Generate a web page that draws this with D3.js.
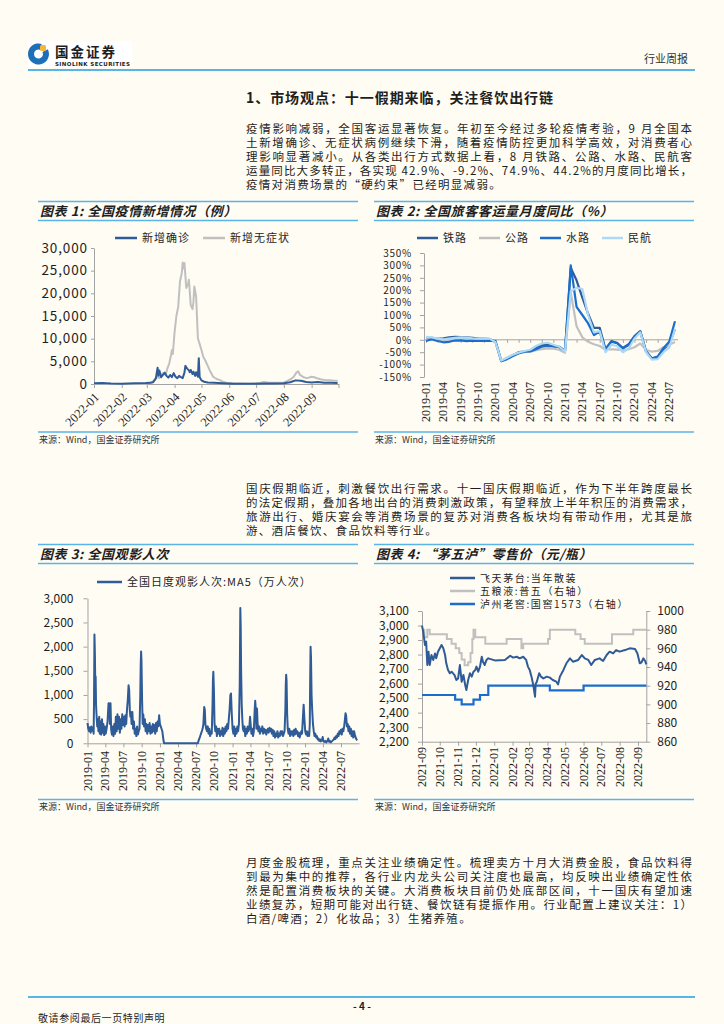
<!DOCTYPE html>
<html lang="zh-CN">
<head>
<meta charset="UTF-8">
<title>行业周报 - 4</title>
<script src="https://d3js.org/d3.v7.min.js"></script>
<style>
  body { margin: 0; background: #fffcf3; }
  svg { display: block; }
  text { font-family: "Noto Sans CJK SC", sans-serif; fill: #1e1e1e; }
  .num { font-family: "Liberation Serif", "DejaVu Serif", serif; }
  .body { font-size: 11.5px; }
  .ptitle { font-size: 13px; font-weight: bold; font-style: italic; letter-spacing: 0.6px; }
  .legend { font-size: 11px; letter-spacing: 1px; }
  .legend.tight { font-size: 10px; letter-spacing: 1.6px; }
  .source { font-size: 9px; fill: #333; }
</style>
</head>
<body>
<svg id="page" width="724" height="1024"></svg>
<script>
// ---------- text ----------
const sectionTitle = '1、市场观点：十一假期来临，关注餐饮出行链';
const para1 = [
  '疫情影响减弱，全国客运显著恢复。年初至今经过多轮疫情考验，9 月全国本',
  '土新增确诊、无症状病例继续下滑，随着疫情防控更加科学高效，对消费者心',
  '理影响显著减小。从各类出行方式数据上看，8 月铁路、公路、水路、民航客',
  '运量同比大多转正，各实现 42.9%、-9.2%、74.9%、44.2%的月度同比增长，',
  '疫情对消费场景的“硬约束”已经明显减弱。'
];
const para2 = [
  '国庆假期临近，刺激餐饮出行需求。十一国庆假期临近，作为下半年跨度最长',
  '的法定假期，叠加各地出台的消费刺激政策，有望释放上半年积压的消费需求，',
  '旅游出行、婚庆宴会等消费场景的复苏对消费各板块均有带动作用，尤其是旅',
  '游、酒店餐饮、食品饮料等行业。'
];
const para3 = [
  '月度金股梳理，重点关注业绩确定性。梳理卖方十月大消费金股，食品饮料得',
  '到最为集中的推荐，各行业内龙头公司关注度也最高，均反映出业绩确定性依',
  '然是配置消费板块的关键。大消费板块目前仍处底部区间，十一国庆有望加速',
  '业绩复苏，短期可能对出行链、餐饮链有提振作用。行业配置上建议关注：1）',
  '白酒/啤酒；2）化妆品；3）生猪养殖。'
];
const sourceText = '来源：Wind，国金证券研究所';

// ---------- chart 1: daily new cases ----------
const c1Names = ['新增确诊', '新增无症状'];
const c1XLabels = ['2022-01','2022-02','2022-03','2022-04','2022-05','2022-06','2022-07','2022-08','2022-09'];
const c1YTicks = [0, 5000, 10000, 15000, 20000, 25000, 30000];
const c1Confirmed = [
  ['2022-01-01',150],['2022-01-10',200],['2022-01-20',100],['2022-02-01',60],['2022-02-15',150],
  ['2022-02-28',200],['2022-03-05',250],['2022-03-08',400],['2022-03-11',1200],['2022-03-13',3600],
  ['2022-03-14',1800],['2022-03-15',3000],['2022-03-17',1500],['2022-03-19',2000],['2022-03-21',2500],
  ['2022-03-23',1800],['2022-03-25',1400],['2022-03-27',2000],['2022-03-29',1500],['2022-03-31',2400],
  ['2022-04-02',1600],['2022-04-04',1300],['2022-04-06',1800],['2022-04-08',1500],['2022-04-10',1300],
  ['2022-04-12',2500],['2022-04-13',4000],['2022-04-15',3400],['2022-04-17',3000],['2022-04-18',2600],
  ['2022-04-19',3100],['2022-04-21',2200],['2022-04-22',2700],['2022-04-24',1800],['2022-04-25',2600],
  ['2022-04-27',1600],['2022-04-28',5700],['2022-04-29',1500],['2022-05-01',800],['2022-05-04',500],
  ['2022-05-08',350],['2022-05-15',250],['2022-05-25',150],['2022-06-05',80],['2022-06-20',60],
  ['2022-07-01',70],['2022-07-10',100],['2022-07-20',120],['2022-08-01',150],['2022-08-08',400],
  ['2022-08-14',800],['2022-08-20',700],['2022-08-26',450],['2022-09-01',350],['2022-09-08',450],
  ['2022-09-15',300],['2022-09-22',250],['2022-09-30',200]
];
const c1Asymptomatic = [
  ['2022-01-01',20],['2022-01-15',15],['2022-02-01',10],['2022-02-15',20],['2022-02-28',80],
  ['2022-03-05',300],['2022-03-08',600],['2022-03-12',1600],['2022-03-15',1300],['2022-03-19',2400],
  ['2022-03-22',2000],['2022-03-24',3500],['2022-03-26',4500],['2022-03-28',6400],['2022-03-29',7500],
  ['2022-03-30',6600],['2022-04-01',11500],['2022-04-03',15000],['2022-04-05',17000],['2022-04-07',22600],
  ['2022-04-09',24500],['2022-04-10',26800],['2022-04-11',25500],['2022-04-12',26700],['2022-04-13',24000],
  ['2022-04-14',21200],['2022-04-16',22000],['2022-04-17',23000],['2022-04-19',17400],['2022-04-21',16500],
  ['2022-04-22',18000],['2022-04-23',21500],['2022-04-25',19300],['2022-04-27',10100],['2022-04-29',8800],
  ['2022-05-01',7500],['2022-05-03',6000],['2022-05-05',5300],['2022-05-08',4000],['2022-05-10',3100],
  ['2022-05-14',1600],['2022-05-18',1100],['2022-05-21',900],['2022-05-25',500],['2022-05-29',300],
  ['2022-06-05',150],['2022-06-15',100],['2022-06-25',80],['2022-07-01',150],['2022-07-06',300],
  ['2022-07-10',450],['2022-07-14',350],['2022-07-20',300],['2022-07-26',250],['2022-08-01',350],
  ['2022-08-05',700],['2022-08-09',1100],['2022-08-12',1600],['2022-08-15',2500],['2022-08-17',2800],
  ['2022-08-19',2000],['2022-08-23',1500],['2022-08-27',1300],['2022-09-01',1600],['2022-09-04',1500],
  ['2022-09-08',1200],['2022-09-12',1000],['2022-09-16',900],['2022-09-20',850],['2022-09-25',750],
  ['2022-09-30',700]
];

// ---------- chart 2: passenger volume YoY (%) ----------
const c2Names = ['铁路', '公路', '水路', '民航'];
const c2Months = [
  '2019-01','2019-02','2019-03','2019-04','2019-05','2019-06','2019-07','2019-08','2019-09','2019-10','2019-11','2019-12',
  '2020-01','2020-02','2020-03','2020-04','2020-05','2020-06','2020-07','2020-08','2020-09','2020-10','2020-11','2020-12',
  '2021-01','2021-02','2021-03','2021-04','2021-05','2021-06','2021-07','2021-08','2021-09','2021-10','2021-11','2021-12',
  '2022-01','2022-02','2022-03','2022-04','2022-05','2022-06','2022-07','2022-08'
];
const c2XLabels = ['2019-01','2019-04','2019-07','2019-10','2020-01','2020-04','2020-07','2020-10',
  '2021-01','2021-04','2021-07','2021-10','2022-01','2022-04','2022-07'];
const c2YTicks = [-150, -100, -50, 0, 50, 100, 150, 200, 250, 300, 350];
const c2Rail = [5, 8, 4, 6, 10, 12, 11, 10, 8, 6, 5, 3,
  -8, -85, -75, -62, -50, -48, -45, -32, -22, -20, -25, -28,
  -45, 290, 240, 170, 105, 48, 48, -38, -5, -12, -33, -18,
  15, 35, -45, -75, -72, -38, -18, 43];
const c2Road = [3, 0, -2, -3, -2, -1, 0, 2, 3, 4, 2, 0,
  -10, -87, -72, -60, -52, -50, -48, -42, -38, -35, -36, -40,
  -52, 190, 55, 10, -8, -18, -25, -40, -38, -40, -42, -38,
  -30, -15, -40, -48, -45, -30, -20, -9];
const c2Water = [-5, 2, -5, -10, -8, -3, -2, -5, -3, -4, -4, -3,
  -5, -86, -78, -65, -55, -48, -47, -38, -28, -25, -27, -30,
  -45, 300, 133, 100, 66, 19, 33, -41, -8, -14, -34, -21,
  13, 33, -48, -75, -68, -34, -8, 75];
const c2Air = [12, 10, 5, 2, 5, 8, 10, 9, 6, 5, 6, 5,
  -10, -84, -72, -60, -52, -45, -40, -25, -15, -12, -20, -28,
  -48, 195, 210, 205, 100, 30, 35, -50, -20, -25, -50, -35,
  5, 30, -50, -80, -78, -50, -32, 44];

// ---------- chart 3: daily cinema attendance MA5 (10k) ----------
const c3Name = '全国日度观影人次:MA5（万人次）';
const c3XLabels = ['2019-01','2019-04','2019-07','2019-10','2020-01','2020-04','2020-07','2020-10',
  '2021-01','2021-04','2021-07','2021-10','2022-01','2022-04','2022-07'];
const c3YTicks = [0, 500, 1000, 1500, 2000, 2500, 3000];
const c3Movie = [
  ['2019-01-01',420],['2019-01-05',300],['2019-01-09',250],['2019-01-13',330],['2019-01-17',220],
  ['2019-01-21',350],['2019-01-25',260],['2019-01-29',320],['2019-02-01',200],['2019-02-03',900],
  ['2019-02-05',2250],['2019-02-07',1900],['2019-02-09',1300],['2019-02-11',1380],['2019-02-13',800],
  ['2019-02-16',550],['2019-02-19',350],['2019-02-22',500],['2019-02-25',250],['2019-03-01',550],
  ['2019-03-04',200],['2019-03-08',450],['2019-03-11',180],['2019-03-15',500],['2019-03-18',220],
  ['2019-03-22',400],['2019-03-26',170],['2019-03-30',350],['2019-04-03',200],['2019-04-07',300],
  ['2019-04-12',450],['2019-04-17',830],['2019-04-21',820],['2019-04-24',400],['2019-04-27',830],
  ['2019-04-30',300],['2019-05-04',180],['2019-05-08',350],['2019-05-12',150],['2019-05-16',400],
  ['2019-05-20',200],['2019-05-24',550],['2019-05-28',250],['2019-06-01',600],['2019-06-05',300],
  ['2019-06-09',550],['2019-06-13',220],['2019-06-17',500],['2019-06-21',300],['2019-06-25',600],
  ['2019-06-29',380],['2019-07-03',550],['2019-07-07',350],['2019-07-11',580],['2019-07-15',400],
  ['2019-07-19',700],['2019-07-23',900],['2019-07-27',1200],['2019-07-30',1100],['2019-08-02',700],
  ['2019-08-05',550],['2019-08-08',650],['2019-08-11',400],['2019-08-15',650],['2019-08-19',300],
  ['2019-08-23',450],['2019-08-27',200],['2019-08-31',300],['2019-09-04',150],['2019-09-08',350],
  ['2019-09-12',180],['2019-09-16',250],['2019-09-20',300],['2019-09-24',1000],['2019-09-26',1600],
  ['2019-09-28',1900],['2019-09-30',1700],['2019-10-03',900],['2019-10-06',400],['2019-10-09',600],
  ['2019-10-13',350],['2019-10-17',500],['2019-10-21',250],['2019-10-25',400],['2019-10-29',200],
  ['2019-11-02',380],['2019-11-06',250],['2019-11-10',420],['2019-11-14',200],['2019-11-18',350],
  ['2019-11-22',220],['2019-11-26',400],['2019-11-30',250],['2019-12-04',380],['2019-12-08',200],
  ['2019-12-12',420],['2019-12-16',250],['2019-12-20',450],['2019-12-24',350],['2019-12-28',580],
  ['2020-01-01',400],['2020-01-05',350],['2020-01-09',300],['2020-01-13',250],['2020-01-17',120],
  ['2020-01-20',30],['2020-01-22',0],['2020-07-10',0],['2020-07-14',60],['2020-07-18',100],
  ['2020-07-22',150],['2020-07-26',200],['2020-07-30',250],['2020-08-03',300],['2020-08-07',400],
  ['2020-08-11',750],['2020-08-14',700],['2020-08-17',400],['2020-08-21',300],['2020-08-25',250],
  ['2020-08-29',350],['2020-09-02',200],['2020-09-06',300],['2020-09-10',150],['2020-09-14',250],
  ['2020-09-18',200],['2020-09-22',800],['2020-09-24',1300],['2020-09-26',1480],['2020-09-29',1100],
  ['2020-10-02',400],['2020-10-06',250],['2020-10-10',350],['2020-10-14',150],['2020-10-18',300],
  ['2020-10-22',200],['2020-10-26',300],['2020-10-30',150],['2020-11-03',250],['2020-11-07',180],
  ['2020-11-11',320],['2020-11-15',150],['2020-11-19',300],['2020-11-23',200],['2020-11-27',350],
  ['2020-12-01',250],['2020-12-05',400],['2020-12-09',300],['2020-12-13',500],['2020-12-17',700],
  ['2020-12-21',1000],['2020-12-24',1030],['2020-12-28',600],['2021-01-01',300],['2021-01-05',200],
  ['2021-01-09',350],['2021-01-13',150],['2021-01-17',300],['2021-01-21',200],['2021-01-25',350],
  ['2021-01-29',250],['2021-02-02',400],['2021-02-06',1200],['2021-02-09',2800],['2021-02-11',2400],
  ['2021-02-13',1500],['2021-02-16',800],['2021-02-19',500],['2021-02-22',300],['2021-02-26',250],
  ['2021-03-02',350],['2021-03-06',150],['2021-03-10',300],['2021-03-14',200],['2021-03-18',350],
  ['2021-03-22',250],['2021-03-26',300],['2021-03-30',550],['2021-04-02',400],['2021-04-06',200],
  ['2021-04-10',300],['2021-04-14',150],['2021-04-18',250],['2021-04-22',650],['2021-04-25',880],
  ['2021-04-28',700],['2021-05-01',300],['2021-05-04',720],['2021-05-07',400],['2021-05-11',250],
  ['2021-05-15',350],['2021-05-19',200],['2021-05-23',300],['2021-05-27',250],['2021-05-31',350],
  ['2021-06-04',200],['2021-06-08',300],['2021-06-12',220],['2021-06-16',280],['2021-06-20',180],
  ['2021-06-24',250],['2021-06-28',300],['2021-07-02',220],['2021-07-06',320],['2021-07-10',250],
  ['2021-07-14',300],['2021-07-18',200],['2021-07-22',280],['2021-07-26',150],['2021-07-30',250],
  ['2021-08-03',120],['2021-08-07',200],['2021-08-11',150],['2021-08-15',250],['2021-08-19',120],
  ['2021-08-23',200],['2021-08-27',150],['2021-08-31',250],['2021-09-04',180],['2021-09-08',250],
  ['2021-09-12',150],['2021-09-16',200],['2021-09-20',250],['2021-09-24',700],['2021-09-26',1200],
  ['2021-09-28',1420],['2021-09-30',1300],['2021-10-03',600],['2021-10-06',300],['2021-10-10',200],
  ['2021-10-14',300],['2021-10-18',150],['2021-10-22',250],['2021-10-26',180],['2021-10-30',250],
  ['2021-11-03',150],['2021-11-07',280],['2021-11-11',180],['2021-11-15',300],['2021-11-19',200],
  ['2021-11-23',250],['2021-11-27',150],['2021-12-01',220],['2021-12-05',120],['2021-12-09',180],
  ['2021-12-13',250],['2021-12-17',200],['2021-12-21',500],['2021-12-25',800],['2021-12-29',500],
  ['2022-01-02',250],['2022-01-06',180],['2022-01-10',250],['2022-01-14',150],['2022-01-18',230],
  ['2022-01-22',150],['2022-01-25',400],['2022-01-27',1300],['2022-01-29',2000],['2022-01-31',1800],
  ['2022-02-03',1000],['2022-02-06',700],['2022-02-10',400],['2022-02-14',250],['2022-02-18',150],
  ['2022-02-22',200],['2022-02-26',120],['2022-03-02',150],['2022-03-06',80],['2022-03-10',100],
  ['2022-03-14',50],['2022-03-18',80],['2022-03-22',40],['2022-03-27',60],['2022-03-31',130],
  ['2022-04-04',40],['2022-04-08',30],['2022-04-13',50],['2022-04-18',20],['2022-04-23',40],
  ['2022-04-28',100],['2022-05-02',30],['2022-05-06',50],['2022-05-11',20],['2022-05-16',40],
  ['2022-05-21',60],['2022-05-26',80],['2022-05-30',120],['2022-06-03',90],['2022-06-07',150],
  ['2022-06-11',120],['2022-06-15',200],['2022-06-19',150],['2022-06-23',250],['2022-06-27',200],
  ['2022-07-01',280],['2022-07-05',180],['2022-07-09',300],['2022-07-13',250],['2022-07-17',350],
  ['2022-07-20',450],['2022-07-24',620],['2022-07-27',580],['2022-07-31',350],['2022-08-04',400],
  ['2022-08-08',250],['2022-08-12',350],['2022-08-16',200],['2022-08-20',300],['2022-08-24',150],
  ['2022-08-28',250],['2022-09-01',120],['2022-09-05',250],['2022-09-09',180],['2022-09-13',120],
  ['2022-09-17',80],['2022-09-21',60]
];

// ---------- chart 4: liquor retail prices ----------
const c4Names = ['飞天茅台:当年散装', '五粮液:普五（右轴）', '泸州老窖:国窖1573（右轴）'];
const c4XLabels = ['2021-09','2021-10','2021-11','2021-12','2022-01','2022-02','2022-03',
  '2022-04','2022-05','2022-06','2022-07','2022-08','2022-09'];
const c4LeftTicks = [2200, 2300, 2400, 2500, 2600, 2700, 2800, 2900, 3000, 3100];
const c4RightTicks = [860, 880, 900, 920, 940, 960, 980, 1000];
const c4Moutai = [
  ['2021-09-01',2999],['2021-09-03',2958],['2021-09-06',2866],['2021-09-08',2889],['2021-09-10',2728],
  ['2021-09-12',2820],['2021-09-14',2728],['2021-09-17',2797],['2021-09-20',2763],['2021-09-23',2808],
  ['2021-09-25',2774],['2021-09-28',2820],['2021-10-04',2866],['2021-10-07',2843],['2021-10-10',2797],
  ['2021-10-12',2740],['2021-10-15',2694],['2021-10-18',2671],['2021-10-21',2682],['2021-10-26',2659],
  ['2021-10-29',2625],['2021-11-01',2636],['2021-11-04',2728],['2021-11-07',2613],['2021-11-10',2659],
  ['2021-11-13',2590],['2021-11-15',2556],['2021-11-18',2625],['2021-11-21',2671],['2021-11-24',2648],
  ['2021-11-27',2682],['2021-11-30',2694],['2021-12-02',2717],['2021-12-05',2682],['2021-12-08',2717],
  ['2021-12-11',2785],['2021-12-13',2751],['2021-12-16',2728],['2021-12-19',2763],['2021-12-22',2774],
  ['2022-01-02',2760],['2022-01-19',2763],['2022-01-28',2792],['2022-02-02',2779],['2022-02-08',2785],
  ['2022-02-13',2774],['2022-02-19',2785],['2022-02-24',2763],['2022-02-27',2717],['2022-03-02',2694],
  ['2022-03-05',2648],['2022-03-08',2590],['2022-03-11',2510],['2022-03-12',2597],['2022-03-14',2613],
  ['2022-03-18',2671],['2022-03-21',2648],['2022-03-25',2636],['2022-03-31',2648],['2022-04-05',2641],
  ['2022-04-10',2625],['2022-04-16',2613],['2022-04-19',2595],['2022-04-22',2648],['2022-04-28',2694],
  ['2022-05-03',2740],['2022-05-09',2774],['2022-05-14',2751],['2022-05-23',2763],['2022-05-29',2797],
  ['2022-06-03',2774],['2022-06-09',2763],['2022-06-14',2728],['2022-06-20',2763],['2022-06-28',2774],
  ['2022-07-04',2756],['2022-07-10',2797],['2022-07-15',2820],['2022-07-21',2808],['2022-07-26',2831],
  ['2022-08-01',2820],['2022-08-10',2831],['2022-08-18',2843],['2022-08-27',2838],['2022-08-31',2808],
  ['2022-09-04',2740],['2022-09-07',2747],['2022-09-10',2774],['2022-09-13',2756],['2022-09-15',2733]
];
const c4Wuliangye = [
  ['2021-09-01',980],['2021-09-05',972],['2021-09-10',980],['2021-09-14',975],['2021-10-13',970],
  ['2021-10-21',965],['2021-10-28',960],['2021-11-03',955],['2021-11-07',948],['2021-11-12',942],
  ['2021-11-18',945],['2021-11-22',955],['2021-11-25',970],['2021-11-27',980],['2021-11-30',972],
  ['2021-12-17',965],['2022-01-22',970],['2022-02-16',960],['2022-02-19',965],['2022-04-02',970],
  ['2022-04-05',980],['2022-05-18',975],['2022-05-27',970],['2022-06-03',965],['2022-07-19',975],
  ['2022-08-24',980],['2022-09-15',980]
];
const c4Guojiao = [
  ['2021-09-01',910],['2021-10-27',905],['2021-11-07',900],['2021-11-27',905],['2021-12-08',910],
  ['2021-12-22',920],['2022-04-05',915],['2022-06-01',920],['2022-09-15',920]
];

// ---------- drawing ----------
const NAVY = '#2f5b97', GRAY = '#c0c0c0', BLUE = '#1a6dcc', SKY = '#acd9f5';
const AXIS = '#a3a3a3', RULE = '#5ab5e6';
const parseDay = d3.timeParse('%Y-%m-%d');
const parseMonth = d3.timeParse('%Y-%m');
const toPts = arr => arr.map(d => ({ date: parseDay(d[0]), v: d[1] }));

const svg = d3.select('#page');
svg.append('rect').attr('width', 724).attr('height', 1024).attr('fill', '#fffcf3');

// header + logo
svg.append('rect').attr('x', 28).attr('y', 41).attr('width', 104).attr('height', 26).attr('fill', '#fff');
svg.append('path')
  .attr('transform', 'translate(38.5,54)')
  .attr('d', d3.arc()({ innerRadius: 4.5, outerRadius: 10.5, startAngle: 0.35 * Math.PI, endAngle: 2.1 * Math.PI }))
  .attr('fill', '#1d6fb8');
svg.append('rect').attr('x', 40).attr('y', 45).attr('width', 6).attr('height', 6).attr('rx', 1.5).attr('fill', '#f4b73a');
svg.append('text').attr('x', 55).attr('y', 56.5).style('font-size', '13.5px').style('font-weight', 'bold')
  .attr('textLength', 60).text('国金证券');
svg.append('text').attr('x', 55).attr('y', 65.5).style('font-family', '"DejaVu Sans", sans-serif')
  .style('font-size', '5.5px').style('font-weight', 'bold').attr('textLength', 75).text('SINOLINK SECURITIES');
svg.append('text').attr('x', 644).attr('y', 63).style('font-size', '11px').style('fill', '#333')
  .attr('textLength', 44).text('行业周报');
svg.append('line').attr('x1', 28).attr('x2', 695).attr('y1', 70).attr('y2', 70)
  .attr('stroke', RULE).attr('stroke-width', 2);

// footer
svg.append('line').attr('x1', 28).attr('x2', 695).attr('y1', 997).attr('y2', 997)
  .attr('stroke', RULE).attr('stroke-width', 2);
svg.append('text').attr('x', 362).attr('y', 1010).attr('text-anchor', 'middle')
  .style('font-size', '10px').style('font-weight', 'bold').text('- 4 -');
svg.append('text').attr('x', 38).attr('y', 1022).style('font-size', '10px').style('letter-spacing', '0.6px')
  .text('敬请参阅最后一页特别声明');

// section title and paragraphs
svg.append('text').attr('x', 246).attr('y', 103).style('font-size', '14px').style('font-weight', 'bold')
  .attr('textLength', 307).text(sectionTitle);

function drawPara(lines, y0) {
  svg.append('g').selectAll('text').data(lines).join('text')
    .attr('class', 'body')
    .attr('x', 246)
    .attr('y', (d, i) => y0 + i * 14)
    .attr('textLength', (d, i) => i < lines.length - 1 ? 446 : null)
    .attr('lengthAdjust', 'spacing')
    .style('letter-spacing', (d, i) => i < lines.length - 1 ? null : '1.3px')
    .text(d => d);
}
drawPara(para1, 132.5);
drawPara(para2, 492.5);
drawPara(para3, 866.5);

// panel frame: title bar and source line
function panelFrame(x0, x1, yTop, yBottom, title) {
  const g = svg.append('g');
  [yTop, yTop + 19, yBottom].forEach(y => {
    g.append('line').attr('x1', x0).attr('x2', x1).attr('y1', y).attr('y2', y)
      .attr('stroke', RULE).attr('stroke-width', 1.5);
  });
  g.append('text').attr('class', 'ptitle').attr('x', x0 + 2).attr('y', yTop + 14).text(title);
  g.append('text').attr('class', 'source').attr('x', x0 + 1).attr('y', yBottom + 10.5).text(sourceText);
}
panelFrame(38, 358, 201.5, 432, '图表 1: 全国疫情新增情况（例）');
panelFrame(374, 694, 201.5, 432, '图表 2: 全国旅客客运量月度同比（%）');
panelFrame(38, 358, 544.5, 799.5, '图表 3: 全国观影人次');
panelFrame(374, 694, 544.5, 799.5, '图表 4: “茅五泸”零售价（元/瓶）');

function styleAxis(g, size) {
  g.attr('font-family', '"Liberation Serif", serif').attr('font-size', size || 12);
  g.select('.domain').attr('stroke', AXIS);
  g.selectAll('.tick line').attr('stroke', AXIS);
  g.selectAll('.tick text').attr('fill', '#1e1e1e');
}

function legendItem(x, y, color, label, lineLen, cls) {
  svg.append('line').attr('x1', x).attr('x2', x + lineLen).attr('y1', y).attr('y2', y)
    .attr('stroke', color).attr('stroke-width', 2.5);
  svg.append('text').attr('class', 'legend' + (cls ? ' ' + cls : ''))
    .attr('x', x + lineLen + 5).attr('y', y + 4).text(label);
}

function vLabels(labels, xScale, yTop) {
  svg.append('g').selectAll('text').data(labels).join('text')
    .attr('class', 'num')
    .attr('text-anchor', 'end')
    .attr('dominant-baseline', 'central')
    .style('font-size', '12px')
    .attr('transform', d => `translate(${xScale(d)},${yTop}) rotate(-90)`)
    .text(d => d);
}

// ----- chart 1 -----
{
  const x = d3.scaleTime().domain([new Date(2022, 0, 1), new Date(2022, 9, 1)]).range([94, 338.5]);
  const y = d3.scaleLinear().domain([0, 30000]).range([384, 248]);
  const gy = svg.append('g').attr('transform', 'translate(94,0)')
    .call(d3.axisLeft(y).tickValues(c1YTicks).tickFormat(d3.format(',')).tickSize(3).tickSizeOuter(0).tickPadding(3));
  styleAxis(gy, 13.5);
  gy.selectAll('.tick text').style('letter-spacing', '0.9px');
  const monthTicks = c1XLabels.map(parseMonth).concat([new Date(2022, 9, 1)]);
  const gx = svg.append('g').attr('transform', 'translate(0,384)')
    .call(d3.axisBottom(x).tickValues(monthTicks).tickFormat('').tickSize(4).tickSizeOuter(0));
  styleAxis(gx);
  svg.append('g').selectAll('text').data(c1XLabels).join('text')
    .attr('class', 'num').attr('text-anchor', 'end').attr('dominant-baseline', 'central')
    .style('font-size', '12.5px')
    .attr('transform', d => `translate(${x(parseMonth(d)) + 3},395) rotate(-45)`)
    .text(d => d);
  const line = d3.line().x(d => x(d.date)).y(d => y(d.v));
  svg.append('path').datum(toPts(c1Asymptomatic)).attr('d', line)
    .attr('fill', 'none').attr('stroke', GRAY).attr('stroke-width', 2).attr('stroke-linejoin', 'round');
  svg.append('path').datum(toPts(c1Confirmed)).attr('d', line)
    .attr('fill', 'none').attr('stroke', NAVY).attr('stroke-width', 2).attr('stroke-linejoin', 'round');
  legendItem(115, 238, NAVY, c1Names[0], 22);
  legendItem(203, 238, GRAY, c1Names[1], 22);
}

// ----- chart 2 -----
{
  const x = d3.scalePoint().domain(c2Months).range([426, 675]);
  const y = d3.scaleLinear().domain([-150, 350]).range([377, 253]);
  const gy = svg.append('g').attr('transform', 'translate(424,0)')
    .call(d3.axisLeft(y).tickValues(c2YTicks).tickFormat(d => d + '%').tickSize(4).tickSizeOuter(0).tickPadding(8));
  styleAxis(gy, 10);
  gy.selectAll('.tick text').style('letter-spacing', '0.7px');
  const gx = svg.append('g').attr('transform', `translate(0,${y(0)})`)
    .call(d3.axisBottom(x).tickValues(c2Months.filter((d, i) => i % 2 === 0)).tickFormat('').tickSize(3).tickSizeOuter(0));
  styleAxis(gx);
  gx.select('.domain').attr('d', `M424,0H678`);
  vLabels(c2XLabels, x, 382);
  const series = [[c2Rail, NAVY], [c2Road, GRAY], [c2Water, BLUE], [c2Air, SKY]];
  const line = d3.line().x((d, i) => x(c2Months[i])).y(d => y(d));
  series.forEach(([vals, color]) => {
    svg.append('path').datum(vals).attr('d', line)
      .attr('fill', 'none').attr('stroke', color).attr('stroke-width', 2.2).attr('stroke-linejoin', 'round');
  });
  const lx = [417, 479, 540, 602];
  c2Names.forEach((n, i) => legendItem(lx[i], 238, series[i][1], n, 21));
}

// ----- chart 3 -----
{
  const x = d3.scaleTime().domain([new Date(2019, 0, 1), new Date(2022, 8, 30)]).range([87.5, 359]);
  const y = d3.scaleLinear().domain([0, 3000]).range([743.3, 598.3]);
  const gy = svg.append('g').attr('transform', 'translate(87.5,0)')
    .call(d3.axisLeft(y).tickValues(c3YTicks).tickFormat(d3.format(',')).tickSize(4).tickSizeOuter(0).tickPadding(10));
  styleAxis(gy);
  const gx = svg.append('g').attr('transform', 'translate(0,743.3)')
    .call(d3.axisBottom(x).tickValues(c3XLabels.map(parseMonth)).tickFormat('').tickSize(4).tickSizeOuter(0));
  styleAxis(gx);
  vLabels(c3XLabels, d => x(parseMonth(d)), 751);
  const line = d3.line().x(d => x(d.date)).y(d => y(d.v));
  svg.append('path').datum(toPts(c3Movie)).attr('d', line)
    .attr('fill', 'none').attr('stroke', NAVY).attr('stroke-width', 2).attr('stroke-linejoin', 'round');
  legendItem(97, 582, NAVY, c3Name, 25);
}

// ----- chart 4 -----
{
  const x = d3.scaleTime().domain([new Date(2021, 8, 1), new Date(2022, 8, 15)]).range([422, 646.3]);
  const yL = d3.scaleLinear().domain([2200, 3100]).range([741.7, 611]);
  const yR = d3.scaleLinear().domain([860, 1000]).range([741.7, 611]);
  const gl = svg.append('g').attr('transform', 'translate(422,0)')
    .call(d3.axisLeft(yL).tickValues(c4LeftTicks).tickFormat(d3.format(',')).tickSize(4).tickSizeOuter(0).tickPadding(9));
  styleAxis(gl);
  const gr = svg.append('g').attr('transform', 'translate(646.3,0)')
    .call(d3.axisRight(yR).tickValues(c4RightTicks).tickFormat(d3.format('d')).tickSize(4).tickSizeOuter(0).tickPadding(7));
  styleAxis(gr);
  const gx = svg.append('g').attr('transform', 'translate(0,741.7)')
    .call(d3.axisBottom(x).tickValues(c4XLabels.map(parseMonth)).tickFormat('').tickSize(4).tickSizeOuter(0));
  styleAxis(gx);
  vLabels(c4XLabels, d => x(parseMonth(d)), 747);
  const stepR = d3.line().curve(d3.curveStepAfter).x(d => x(d.date)).y(d => yR(d.v));
  const lineL = d3.line().x(d => x(d.date)).y(d => yL(d.v));
  svg.append('path').datum(toPts(c4Wuliangye)).attr('d', stepR)
    .attr('fill', 'none').attr('stroke', GRAY).attr('stroke-width', 2);
  svg.append('path').datum(toPts(c4Guojiao)).attr('d', stepR)
    .attr('fill', 'none').attr('stroke', BLUE).attr('stroke-width', 2.2);
  svg.append('path').datum(toPts(c4Moutai)).attr('d', lineL)
    .attr('fill', 'none').attr('stroke', NAVY).attr('stroke-width', 2).attr('stroke-linejoin', 'round');
  const colors = [NAVY, GRAY, BLUE];
  c4Names.forEach((n, i) => legendItem(450, 578 + i * 13, colors[i], n, 25, 'tight'));
}
</script>
</body>
</html>
